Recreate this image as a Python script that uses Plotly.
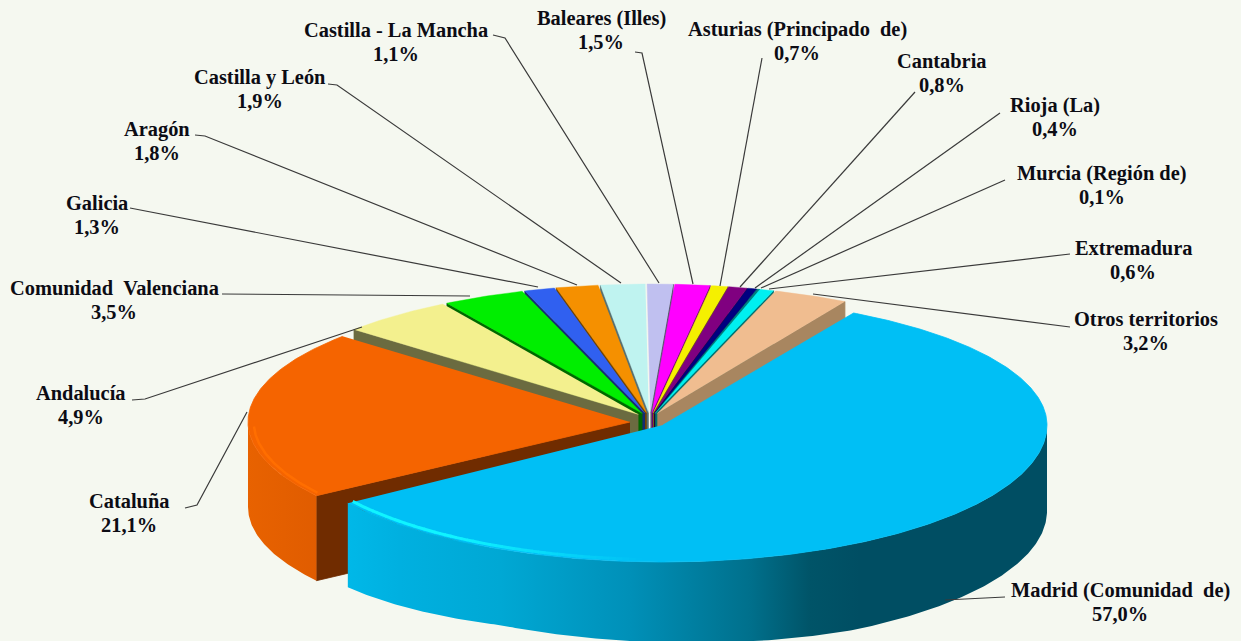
import math
import plotly.graph_objects as go

# ---- data ----
regions = ["Andalucía", "Comunidad  Valenciana", "Galicia", "Aragón", "Castilla y León",
           "Castilla - La Mancha", "Baleares (Illes)", "Asturias (Principado  de)", "Cantabria",
           "Rioja (La)", "Murcia (Región de)", "Extremadura", "Otros territorios",
           "Madrid (Comunidad  de)", "Cataluña"]
shares = [4.9, 3.5, 1.3, 1.8, 1.9, 1.1, 1.5, 0.7, 0.8, 0.4, 0.1, 0.6, 3.2, 57.0, 21.1]

# ---- styling / layout (not data) ----
top_colors = ["#F3F08E", "#00EE00", "#3060F0", "#F59000", "#BFF3F0", "#C0C0F0", "#FF00FF", "#F5F000",
              "#800080", "#000080", "#008080", "#00F0F0", "#F0BD90", "#00BFF5", "#F56400"]
side_colors = ["#6B6B40", "#006800", "#162C70", "#704200", "#587070", "#585870", "#700070", "#707000",
               "#3A003A", "#00003A", "#003A3A", "#007070", "#A88660", "#004E63", "#702C00"]
label_pos = [(81, 405), (114, 300), (97, 215), (157, 141), (260, 89), (396, 42), (601, 30), (797, 41),
             (942, 73), (1055, 117), (1102, 185), (1133, 260), (1146, 331), (1120, 602), (129, 513)]
leaders = [[(132, 400), (145, 399), (362, 327)], [(222, 294), (470, 296)], [(130, 208), (538, 287)],
           [(195, 135), (205, 136), (577, 285)], [(328, 84), (337, 85), (621, 283)],
           [(493, 35), (505, 38), (659, 283)], [(635, 52), (642, 53), (693, 284)],
           [(762, 58), (720, 286)], [(915, 92), (740, 287)], [(1000, 113), (755, 288)],
           [(1005, 180), (761, 288)], [(1070, 254), (769, 289)], [(1070, 327), (813, 294)],
           [(1005, 597), (945, 600)], [(185, 508), (197, 505), (247, 412)]]
BG = "#F5F8F0"
TOTAL = sum(shares)
START_DEG = 311.2   # clockwise from 12 o'clock, start of the first region
THICK = 85
CENTER = (650, 419)
EXPLODE = (18, 6)   # every slice is pulled out of the centre by this much, in x and y
BASE = dict(rx=378, up=129, down=130)
GEOM = {"Madrid (Comunidad  de)": dict(cx=663, cy=425, rx=384, up=129, down=137),
        "Cataluña": dict(cx=630, cy=422, rx=382, up=130, down=129)}


def pt(g, deg, scale=1.0, dy=0):
    t = math.radians(deg)
    c = math.cos(t)
    return (g["cx"] + scale * g["rx"] * math.sin(t),
            g["cy"] - scale * (g["up"] if c > 0 else g["down"]) * c + dy)


def arc(g, a, b, scale=1.0, dy=0, step=0.5):
    n = max(2, int(abs(b - a) / step) + 1)
    return [pt(g, a + (b - a) * i / (n - 1), scale, dy) for i in range(n)]


fig = go.Figure()


def poly(points, fill, line=None, lw=0.8):
    fig.add_trace(go.Scatter(x=[p[0] for p in points], y=[p[1] for p in points], mode="lines",
                             fill="toself", fillcolor=fill, line=dict(color=line or fill, width=lw),
                             hoverinfo="skip", showlegend=False))


def path(points, color, width):
    fig.add_trace(go.Scatter(x=[p[0] for p in points], y=[p[1] for p in points], mode="lines",
                             line=dict(color=color, width=width), hoverinfo="skip", showlegend=False))


def radial_wall(g, deg, color):
    apex = (g["cx"], g["cy"])
    rim = pt(g, deg)
    poly([apex, rim, (rim[0], rim[1] + THICK), (apex[0], apex[1] + THICK)], color)


def rim_wall(g, a, b, stops, thick=None):
    """Outer wall as a single polygon with a horizontal gradient; thick(deg) gives its height."""
    thick = thick or (lambda d: THICK)
    upper = arc(g, a, b)
    n = len(upper)
    lower = [pt(g, a + (b - a) * i / (n - 1), dy=thick(a + (b - a) * i / (n - 1))) for i in range(n)][::-1]
    pts = upper + lower
    x0, x1 = stops[0][0], stops[-1][0]
    fig.add_trace(go.Scatter(x=[p[0] for p in pts], y=[p[1] for p in pts], mode="lines", fill="toself",
                             line=dict(width=0), hoverinfo="skip", showlegend=False,
                             fillgradient=dict(type="horizontal", start=x0, stop=x1,
                                               colorscale=[[(x - x0) / (x1 - x0), c] for x, c in stops])))


# angular extents from the shares (angles keep increasing past 360)
spans = {}
cur = START_DEG
for name, v in zip(regions, shares):
    sweep = v / TOTAL * 360
    spans[name] = (cur, cur + sweep)
    cur += sweep

# small slices: each slightly exploded; paint from the far side (12 o'clock) outwards
small = [i for i, r in enumerate(regions) if r not in GEOM]
small.sort(key=lambda i: abs(sum(spans[regions[i]]) / 2 - 360))
for i in small:
    a, b = spans[regions[i]]
    mid = (a + b) / 2
    t = math.radians(mid)
    g = dict(BASE, cx=CENTER[0] + EXPLODE[0] * math.sin(t), cy=CENTER[1] - EXPLODE[1] * math.cos(t))
    radial_wall(g, a if mid < 360 else b, side_colors[i])
    poly([(g["cx"], g["cy"])] + arc(g, a, b), top_colors[i], lw=0.4)

# Cataluña: visible rim runs from its start to 9 o'clock (630 = 270 + 360)
i = regions.index("Cataluña")
g = GEOM["Cataluña"]
a, b = spans["Cataluña"]
radial_wall(g, a, side_colors[i])
rim_wall(g, a, 630, [(247, "#E86200"), (320, "#E05C00")])
poly([(g["cx"], g["cy"])] + arc(g, a, b), top_colors[i])
path(arc(g, a + 1, 628, 0.985), "#FF6E00", 2.5)

# Madrid: visible rim runs from 3 o'clock (450 = 90 + 360) to its end
i = regions.index("Madrid (Comunidad  de)")
g = GEOM["Madrid (Comunidad  de)"]
a, b = spans["Madrid (Comunidad  de)"]


def madrid_thick(d):
    d = d - 360
    if d < 150:
        return 86
    if d < 205:
        return 86 - 10 * (d - 150) / 55
    return 76 + 8 * (d - 205) / 30


rim_wall(g, 450, b, [(347, "#00B8E8"), (400, "#00B0E0"), (500, "#00A8D4"), (630, "#0090B8"), (750, "#00708C"),
                     (810, "#005468"), (860, "#004E63"), (1047, "#004E63")], madrid_thick)
poly([(g["cx"], g["cy"])] + arc(g, a, b), top_colors[i])
# bright bevel along the near rim, fading out towards the middle
FADE = 52
for k in range(FADE):
    f = min(1.0, 1.7 * k / (FADE - 1))
    col = "rgb(%d,%d,%d)" % (round(16 * f), round(192 + 52 * f), round(245 + 10 * f))
    path(arc(g, b - FADE + k, b - FADE + k + 1.2, 0.982), col, 3)

# leader lines
for pts in leaders:
    path(pts, "#3A3A3A", 1.2)

# labels: two separately placed lines so the line pitch can match
annotations = []
FONT = dict(family="Liberation Serif", size=20.4, color="#0C0C14", weight="bold")
for r, v, (x, y) in zip(regions, shares, label_pos):
    line1 = r.replace("  ", "\u00a0\u00a0")
    line2 = f"{v:.1f}".replace(".", ",") + "%"
    for text, yy in ((line1, y - 12), (line2, y + 12)):
        annotations.append(dict(x=x, y=yy, text=text, showarrow=False, xanchor="center", yanchor="middle",
                                align="center", font=FONT))

fig.update_layout(width=1241, height=641, margin=dict(l=0, r=0, t=0, b=0), paper_bgcolor=BG, plot_bgcolor=BG,
                  xaxis=dict(range=[0, 1241], visible=False, fixedrange=True),
                  yaxis=dict(range=[641, 0], visible=False, fixedrange=True),
                  annotations=annotations, showlegend=False)
fig.write_html("out.html", config={"displayModeBar": False}, default_width="1241px", default_height="641px",
               post_script="document.body.style.margin='0';document.body.style.background='%s';"
                           "document.documentElement.style.overflow='hidden';" % BG)
